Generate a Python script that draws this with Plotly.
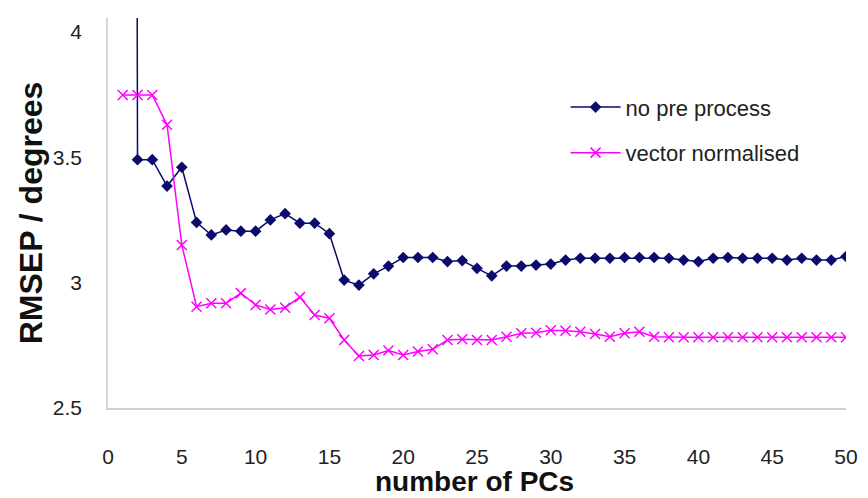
import plotly.graph_objects as go

pcs = list(range(1, 51))

no_pre_process = [
    30.0, 3.49, 3.49, 3.385, 3.46, 3.24, 3.19, 3.21, 3.205, 3.205,
    3.25, 3.275, 3.237, 3.237, 3.195, 3.01, 2.99, 3.035, 3.066, 3.1,
    3.1, 3.1, 3.084, 3.088, 3.057, 3.027, 3.066, 3.066, 3.07, 3.074,
    3.09, 3.097, 3.097, 3.097, 3.1, 3.1, 3.1, 3.097, 3.09, 3.084,
    3.097, 3.1, 3.097, 3.097, 3.097, 3.09, 3.097, 3.09, 3.09, 3.104,
]

vector_normalised = [
    3.748, 3.748, 3.748, 3.629, 3.15, 2.904, 2.918, 2.918, 2.958, 2.911,
    2.893, 2.9, 2.942, 2.871, 2.858, 2.771, 2.707, 2.711, 2.729, 2.711,
    2.725, 2.734, 2.771, 2.774, 2.771, 2.771, 2.784, 2.798, 2.8, 2.81,
    2.808, 2.804, 2.795, 2.784, 2.798, 2.804, 2.784, 2.782, 2.782, 2.782,
    2.782, 2.782, 2.782, 2.782, 2.782, 2.782, 2.782, 2.782, 2.782, 2.782,
]

x_ticks = [0, 5, 10, 15, 20, 25, 30, 35, 40, 45, 50]
y_ticks = [2.5, 3, 3.5, 4]
y_tick_labels = ["2.5", "3", "3.5", "4"]
x_title = "number of PCs"
y_title = "RMSEP / degrees"

NAVY = "#0b0b6e"
MAGENTA = "#ff00ff"

fig = go.Figure()
fig.add_trace(go.Scatter(
    x=pcs, y=no_pre_process, name="no pre process", mode="lines+markers",
    line=dict(color=NAVY, width=1.5),
    marker=dict(symbol="diamond", size=9, color=NAVY),
    legendgroup="a",
))
fig.add_trace(go.Scatter(
    x=pcs, y=vector_normalised, name="vector normalised", mode="lines+markers",
    line=dict(color=MAGENTA, width=1.5),
    marker=dict(symbol="x-thin", size=10, color=MAGENTA,
                line=dict(color=MAGENTA, width=1.5)),
    legendgroup="b",
))

fig.add_annotation(
    text="<b>" + x_title + "</b>", xref="paper", yref="paper",
    x=0.497, y=0, xanchor="center", yanchor="top", yshift=-56,
    showarrow=False, font=dict(size=28, color="#111111"),
)

# page body has an 8px default margin, so the figure is 8px smaller
fig.update_layout(
    width=860, height=490,
    margin=dict(l=100, r=20, t=10, b=90),
    paper_bgcolor="white", plot_bgcolor="white",
    font=dict(family="Arial, Liberation Sans, sans-serif", color="#222222"),
    showlegend=True,
    legend=dict(
        x=0.62, y=0.825, xanchor="left", yanchor="top",
        font=dict(size=22, color="#222222"),
        bgcolor="rgba(0,0,0,0)", itemwidth=50,
        traceorder="grouped", tracegroupgap=14,
    ),
    xaxis=dict(
        range=[0, 50], tickvals=x_ticks, ticktext=[str(v) for v in x_ticks],
        showgrid=False, zeroline=False,
        showline=True, linecolor="#d0d0d0", linewidth=1.5,
        ticks="", ticklabelstandoff=29,
        tickfont=dict(size=21, color="#222222"),
    ),
    yaxis=dict(
        range=[2.5, 4.055], tickvals=y_ticks, ticktext=y_tick_labels,
        showgrid=False, zeroline=False,
        showline=True, linecolor="#d8d8d8", linewidth=1.5,
        ticks="", ticklabelstandoff=20,
        tickfont=dict(size=21, color="#222222"),
        title=dict(text="<b>" + y_title + "</b>", font=dict(size=32, color="#111111"),
                   standoff=1),
    ),
)

fig.write_html("out.html")
